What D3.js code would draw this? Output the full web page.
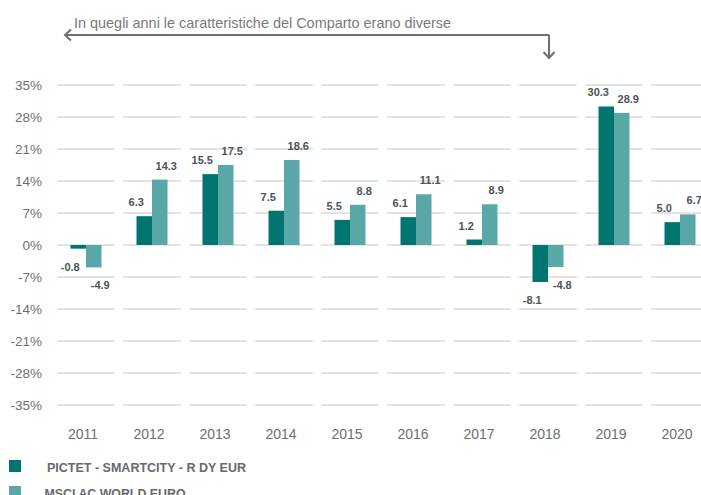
<!DOCTYPE html>
<html><head><meta charset="utf-8">
<script src="https://cdn.jsdelivr.net/npm/d3@7"></script>
<style>
html,body{margin:0;padding:0;background:#fff;}
svg{display:block;font-family:"Liberation Sans",Arial,sans-serif;}
</style></head>
<body>
<svg id="c" width="701" height="495"></svg>
<script>
const years = ["2011","2012","2013","2014","2015","2016","2017","2018","2019","2020"];
const fund = [-0.8, 6.3, 15.5, 7.5, 5.5, 6.1, 1.2, -8.1, 30.3, 5.0];
const index = [-4.9, 14.3, 17.5, 18.6, 8.8, 11.1, 8.9, -4.8, 28.9, 6.7];
const seriesNames = ["PICTET - SMARTCITY - R DY EUR", "MSCI AC WORLD EURO"];
const yTicks = [-35, -28, -21, -14, -7, 0, 7, 14, 21, 28, 35];
const note = "In quegli anni le caratteristiche del Comparto erano diverse";
const colors = ["#00746f", "#5aa7a7"];

const svg = d3.select("#c");
const x = d3.scaleBand().domain(years).range([53, 713]).paddingInner(0).paddingOuter(0);
const y = d3.scaleLinear().domain([-35, 35]).range([405, 85]);
const barW = 15.5;

// gridlines, segmented per category
const grid = svg.append("g");
years.forEach(yr => {
  grid.selectAll(null).data(yTicks).enter().append("line")
    .attr("x1", x(yr) + 4).attr("x2", x(yr) + x.bandwidth() - 4)
    .attr("y1", d => y(d)).attr("y2", d => y(d))
    .attr("stroke", "#e4e4e4").attr("stroke-width", 2);
});

// y axis labels
const yAxis = d3.axisLeft(y).tickValues(yTicks).tickFormat(d => d + "%").tickSize(0).tickPadding(0);
const ya = svg.append("g").attr("transform", "translate(42,0)").call(yAxis);
ya.select(".domain").remove();
ya.selectAll("text").attr("font-size", "13.5px").attr("fill", "#6b7075")
  .attr("font-family", "'Liberation Sans', Arial, sans-serif").attr("dy", "0.36em");

// x axis labels
const xAxis = d3.axisBottom(x).tickSize(0).tickPadding(0);
const xa = svg.append("g").attr("transform", "translate(-3,439)").call(xAxis);
xa.select(".domain").remove();
xa.selectAll("text").attr("font-size", "14px").attr("fill", "#6b7075")
  .attr("font-family", "'Liberation Sans', Arial, sans-serif").attr("dy", "0");

// bars
const data = [fund, index];
data.forEach((vals, si) => {
  const g = svg.append("g");
  const bx = d => x(years[d.i]) + x.bandwidth() / 2 - barW + si * barW;
  const pts = vals.map((v, i) => ({v, i}));
  g.selectAll("rect").data(pts).enter().append("rect")
    .attr("x", bx)
    .attr("y", d => y(Math.max(0, d.v)))
    .attr("width", barW)
    .attr("height", d => Math.abs(y(d.v) - y(0)))
    .attr("fill", colors[si]);
  g.selectAll("text").data(pts).enter().append("text")
    .attr("x", d => bx(d) + barW / 2 + (si === 0 ? -8 : 6.5))
    .attr("y", d => d.v >= 0 ? y(d.v) - 10 : y(d.v) + 22)
    .attr("text-anchor", "middle")
    .attr("font-size", "11px").attr("font-weight", "bold").attr("fill", "#4d5358")
    .text(d => d.v.toFixed(1));
});

// annotation
svg.append("text").attr("x", 74).attr("y", 28.3)
  .attr("font-size", "14.4px").attr("fill", "#7a7a7a")
  .attr("textLength", 377).attr("lengthAdjust", "spacingAndGlyphs")
  .text(note);
const ac = "#6d6d6d";
svg.append("path").attr("d", "M549,35 H65 M71,29.5 L65,35 L71,40.5 M549,35 V58 M543.5,52 L549,58 L554.5,52")
  .attr("fill", "none").attr("stroke", ac).attr("stroke-width", 2);

// legend
const lg = svg.append("g");
seriesNames.forEach((name, i) => {
  lg.append("rect").attr("x", 9).attr("y", 460 + i * 26).attr("width", 12).attr("height", 12).attr("fill", colors[i]);
  lg.append("text").attr("x", i === 0 ? 47 : 44.5).attr("y", 472.3 + i * 25.5)
    .attr("font-size", "13.5px").attr("font-weight", "bold").attr("fill", "#666a6e")
    .attr("textLength", i === 0 ? 199 : 141).attr("lengthAdjust", "spacingAndGlyphs")
    .text(name);
});
</script>
</body></html>
